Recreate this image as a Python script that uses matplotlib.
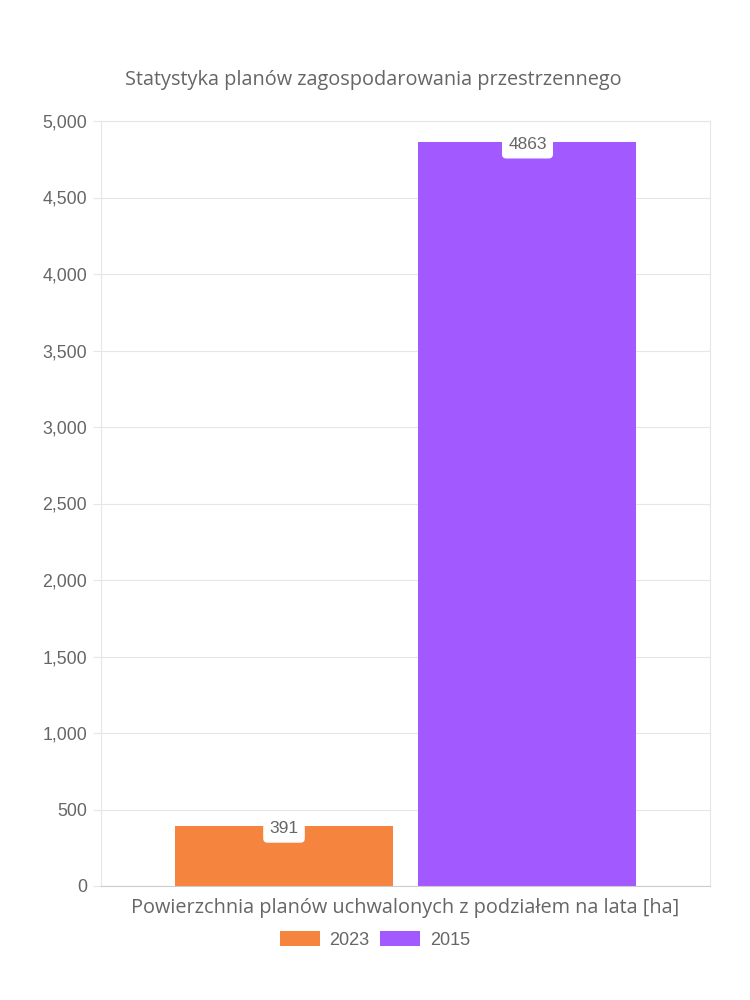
import matplotlib.pyplot as plt
from matplotlib.patches import Patch

# chart data
title = "Statystyka planów zagospodarowania przestrzennego"
x_title = "Powierzchnia planów uchwalonych z podziałem na lata [ha]"
years = ["2023", "2015"]
values = [391, 4863]
colors = ["#F5843F", "#A259FF"]
y_ticks = [0, 500, 1000, 1500, 2000, 2500, 3000, 3500, 4000, 4500, 5000]

plt.rcParams['font.family'] = ['Open Sans', 'DejaVu Sans']
text_col = "#666666"
grid_col = "#e6e6e6"

fig = plt.figure(figsize=(7.5, 10), dpi=100)
ax = fig.add_axes([101 / 750, 1 - 886 / 1000, 609 / 750, 765 / 1000])

offsets = [-0.1995, 0.2003]
width = 0.358
for off, val, col, yr in zip(offsets, values, colors, years):
    ax.bar(off, val, width=width, color=col, zorder=2, label=yr)
    ax.annotate(str(val), (off, val), xytext=(0, -2), textcoords="offset points",
                ha="center", va="center", fontsize=12.5, color=text_col,
                family=["Liberation Sans"], zorder=3,
                bbox=dict(boxstyle="round,pad=0.36,rounding_size=0.25", fc="white", ec="none"))

ax.set_xlim(-0.5, 0.5)
ax.set_ylim(0, 5000)
ax.set_yticks(y_ticks)
ax.set_yticklabels([f"{v:,}" for v in y_ticks], family=["Liberation Sans"],
                   fontsize=12.8, color=text_col)
ax.tick_params(axis="y", length=6, color=grid_col, pad=4)
ax.set_xticks([])
ax.grid(axis="y", color=grid_col, linewidth=0.8, zorder=0)
for s in ["top", "right", "left"]:
    ax.spines[s].set_color(grid_col)
    ax.spines[s].set_linewidth(0.8)
ax.spines["bottom"].set_color("#cccccc")
ax.spines["bottom"].set_linewidth(0.8)

fig.text(373 / 750, 0.92, title, ha="center", va="center", fontsize=14.3, color=text_col)
fig.text(405.5 / 750, 1 - 908 / 1000, x_title, ha="center", va="center",
         fontsize=14.3, color=text_col)

handles = [Patch(facecolor=c, edgecolor="none") for c in colors]
fig.legend(handles, years, loc="center", bbox_to_anchor=(375 / 750, 1 - 940 / 1000),
           ncol=2, frameon=False, handlelength=2.2, handleheight=0.9, handletextpad=0.55,
           columnspacing=0.6, prop={"family": ["Liberation Sans"], "size": 13},
           labelcolor=text_col)

fig.savefig("out.png", dpi=100, facecolor="white")
